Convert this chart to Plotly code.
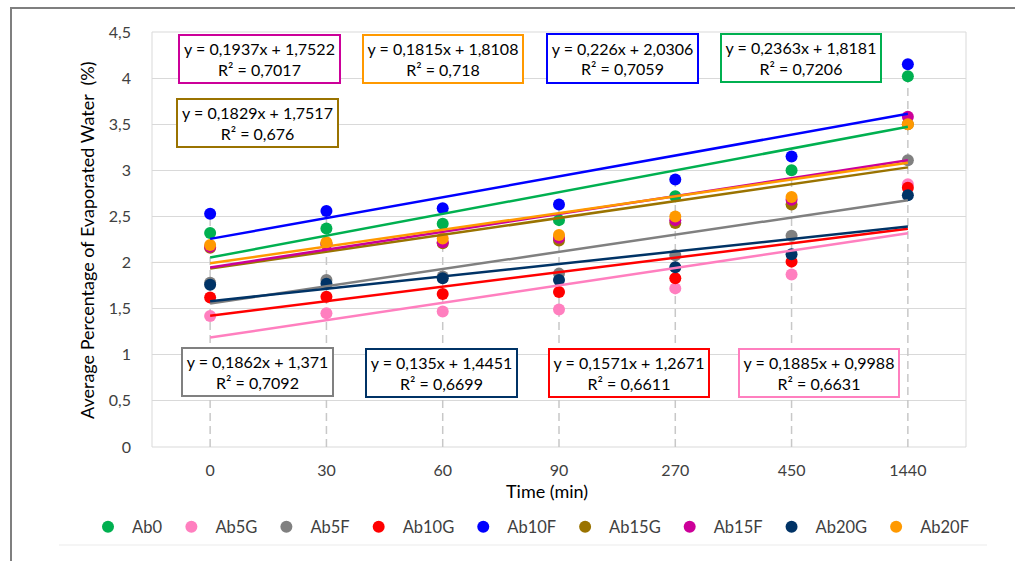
import plotly.graph_objects as go

# ---------------- data ----------------
categories = ["0", "30", "60", "90", "270", "450", "1440"]
series_names = ["Ab0", "Ab5G", "Ab5F", "Ab10G", "Ab10F", "Ab15G", "Ab15F", "Ab20G", "Ab20F"]

ab0   = [2.32, 2.37, 2.42, 2.46, 2.72, 3.00, 4.02]
ab5g  = [1.42, 1.45, 1.47, 1.49, 1.72, 1.87, 2.85]
ab5f  = [1.78, 1.81, 1.85, 1.88, 2.08, 2.29, 3.11]
ab10g = [1.62, 1.63, 1.66, 1.68, 1.83, 2.01, 2.81]
ab10f = [2.53, 2.56, 2.59, 2.63, 2.90, 3.15, 4.15]
ab15g = [2.16, 2.20, 2.21, 2.24, 2.43, 2.63, 3.50]
ab15f = [2.17, 2.20, 2.22, 2.27, 2.46, 2.68, 3.58]
ab20g = [1.76, 1.77, 1.83, 1.81, 1.95, 2.09, 2.73]
ab20f = [2.19, 2.22, 2.26, 2.30, 2.50, 2.71, 3.50]

# trendline equations as printed on the chart (x = category index 1..7)
slopes     = [0.2363, 0.1885, 0.1862, 0.1571, 0.226, 0.1829, 0.1937, 0.135, 0.1815]
intercepts = [1.8181, 0.9988, 1.371, 1.2671, 2.0306, 1.7517, 1.7522, 1.4451, 1.8108]
r_squared  = [0.7206, 0.6631, 0.7092, 0.6611, 0.7059, 0.676, 0.7017, 0.6699, 0.718]

y_ticks = [0, 0.5, 1, 1.5, 2, 2.5, 3, 3.5, 4, 4.5]

# ---------------- style ----------------
values = [ab0, ab5g, ab5f, ab10g, ab10f, ab15g, ab15f, ab20g, ab20f]
colors = ["#00B050", "#FF7FBF", "#808080", "#FF0000", "#0000FF",
          "#9A7300", "#CC0099", "#003366", "#FF9900"]

W, H = 1015, 561
PL, PR, PT, PB = 152, 966, 32, 447  # plot area in pixels

def px(x):
    return (x - PL) / (PR - PL)

def py(y):
    return (PB - y) / (PB - PT)

FONT = "Lato, Open Sans, sans-serif"
x_idx = list(range(1, len(categories) + 1))

fig = go.Figure()

# drop lines (from axis up to highest point of each category)
drop_x, drop_y = [], []
for i, xi in enumerate(x_idx):
    top = max(v[i] for v in values)
    drop_x += [xi, xi, None]
    drop_y += [0, top, None]
fig.add_trace(go.Scatter(x=drop_x, y=drop_y, mode="lines",
                         line=dict(color="#C8C8C8", width=1.5, dash="8px,5px"),
                         showlegend=False, hoverinfo="skip"))

# markers
for name, vals, col in zip(series_names, values, colors):
    fig.add_trace(go.Scatter(x=x_idx, y=vals, mode="markers", name=name,
                             marker=dict(color=col, size=12)))

# linear trendlines
for name, s, b, col in zip(series_names, slopes, intercepts, colors):
    xs = [x_idx[0], x_idx[-1]]
    fig.add_trace(go.Scatter(x=xs, y=[s * x + b for x in xs], mode="lines",
                             line=dict(color=col, width=2.5),
                             showlegend=False, hoverinfo="skip"))

# equation boxes: center px (x, y), width, height
box_pos = {
    "Ab15F": (259.5, 59, 163, 50),
    "Ab20F": (443, 59, 162, 50),
    "Ab10F": (622.5, 58.5, 153, 51),
    "Ab0":   (801, 58, 162, 50),
    "Ab15G": (257.5, 123, 163, 50),
    "Ab5F":  (257.5, 372, 153, 50),
    "Ab20G": (441.5, 373, 153, 50),
    "Ab10G": (629, 373, 162, 50),
    "Ab5G":  (819, 373, 162, 50),
}

def fmt(v):
    return str(v).replace(".", ",")

for name, s, b, r2, col in zip(series_names, slopes, intercepts, r_squared, colors):
    cx, cy, bw, bh = box_pos[name]
    txt = f"y = {fmt(s)}x + {fmt(b)}<br>R² = {fmt(r2)}"
    fig.add_annotation(x=px(cx), y=py(cy), xref="paper", yref="paper",
                       xanchor="center", yanchor="middle", text=txt, showarrow=False,
                       width=bw - 4, height=bh - 4, align="center", valign="middle",
                       bordercolor=col, borderwidth=2, borderpad=0, bgcolor="white",
                       font=dict(family=FONT, size=16, color="#000000"))

# axis titles
fig.add_annotation(x=px(87), y=py(240), xref="paper", yref="paper", showarrow=False,
                   text="Average Percentage of Evaporated Water  (%)", textangle=-90,
                   xanchor="center", yanchor="middle",
                   font=dict(family=FONT, size=18, color="#000000"))
fig.add_annotation(x=px(547), y=py(491), xref="paper", yref="paper", showarrow=False,
                   text="Time (min)", xanchor="center", yanchor="middle",
                   font=dict(family=FONT, size=18, color="#000000"))

# outer chart frame and thin separator line
fig.add_shape(type="rect", xref="paper", yref="paper",
              x0=px(11), x1=px(1100), y0=py(640), y1=py(8),
              line=dict(color="#7F7F7F", width=2), layer="below")
fig.add_shape(type="line", xref="paper", yref="paper",
              x0=px(59), x1=px(987), y0=py(545), y1=py(545),
              line=dict(color="#EBEBEB", width=1), layer="below")

fig.update_layout(
    width=W, height=H,
    margin=dict(l=PL, r=W - PR, t=PT, b=H - PB, autoexpand=False),
    paper_bgcolor="white", plot_bgcolor="white",
    separators=",.",
    font=dict(family=FONT, size=16, color="#404040"),
    showlegend=True,
    legend=dict(orientation="h", x=px(84), y=py(527), xanchor="left", yanchor="middle",
                font=dict(family=FONT, size=16.5, color="#404040"), itemwidth=38,
                itemsizing="constant", bgcolor="rgba(0,0,0,0)"),
    xaxis=dict(range=[0.5, 7.5], tickmode="array", tickvals=x_idx, ticktext=categories,
               showgrid=False, zeroline=False, showline=False, ticks="",
               ticklabelstandoff=12, tickfont=dict(size=16, color="#404040")),
    yaxis=dict(range=[0, 4.5], tickmode="array", tickvals=y_ticks,
               showgrid=True, gridcolor="#D9D9D9", gridwidth=1, zeroline=False,
               showline=False, ticks="", ticklabelstandoff=20,
               tickfont=dict(size=16, color="#404040")),
)

# plot area border
fig.add_shape(type="rect", xref="paper", yref="paper", x0=0, x1=1, y0=0, y1=1,
              line=dict(color="#D9D9D9", width=1), layer="below")

fig.write_html("out.html", config={"displayModeBar": False},
               post_script="document.body.style.margin='0';")
